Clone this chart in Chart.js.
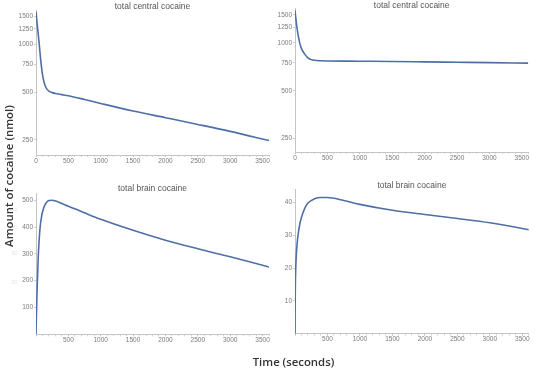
<!DOCTYPE html>
<html>
<head>
<meta charset="utf-8">
<script src="https://cdn.jsdelivr.net/npm/chart.js@4/dist/chart.umd.min.js"></script>
<style>
  html, body { margin: 0; padding: 0; background: #fff; }
  #wrap { position: relative; width: 539px; height: 368px; overflow: hidden; }
  canvas { position: absolute; }
  .lbl { position: absolute; font-family: "Open Sans", sans-serif; font-weight: 600; color: #333; white-space: nowrap; }
  .ghost { position: absolute; font-family: "Liberation Sans", sans-serif; font-size: 6px; color: #e4e4e4; }
</style>
</head>
<body>
<div id="wrap">
  <canvas id="c1" width="270" height="170" style="left:0;top:0"></canvas>
  <canvas id="c2" width="280" height="167" style="left:259px;top:0"></canvas>
  <canvas id="c3" width="270" height="170" style="left:0;top:180px"></canvas>
  <canvas id="c4" width="280" height="170" style="left:259px;top:180px"></canvas>
  <div class="ghost" style="left:11px;top:207px">50</div>
  <div class="ghost" style="left:11px;top:224px">40</div>
  <div class="ghost" style="left:11px;top:250px">30</div>
  <div class="ghost" style="left:11px;top:279px">20</div>
  <div id="ylab" class="lbl" style="font-size:11px;left:7.5px;top:176px;transform:translate(-50%,-50%) rotate(-90deg)">Amount of cocaine (nmol)</div>
  <div id="xlab" class="lbl" style="font-size:11px;left:293.5px;top:361px;transform:translate(-50%,-50%)">Time (seconds)</div>
</div>
<script>
// ---- data ----
const tCentralA = [0, 10, 20, 35, 50, 75, 100, 125, 150, 175, 200, 250, 300, 400, 500, 750, 1000, 1500, 2000, 2500, 3000, 3600];
const centralA  = [1600, 1450, 1320, 1150, 1000, 780, 645, 575, 538, 518, 507, 496, 490, 482, 474, 449, 424, 380, 345, 313, 283, 248];

const tCentralB = [0, 15, 30, 50, 75, 100, 150, 200, 250, 300, 400, 500, 1000, 1500, 2000, 2500, 3000, 3600];
const centralB  = [1600, 1400, 1250, 1110, 990, 920, 850, 805, 785, 777, 772, 770, 767, 764, 760, 756, 752, 746];

const tBrainA = [0, 5, 10, 20, 35, 60, 90, 120, 150, 200, 250, 300, 500, 750, 1000, 1500, 2000, 2500, 3000, 3600];
const brainA  = [0, 55, 100, 190, 290, 390, 445, 472, 488, 499, 500, 497, 478, 453, 429, 388, 351, 319, 289, 251];

const tBrainB = [0, 2, 5, 10, 20, 35, 50, 75, 100, 150, 200, 300, 400, 500, 750, 1000, 1500, 2000, 2500, 3000, 3600];
const brainB  = [0, 8, 14, 19, 24, 28, 30.5, 33.5, 35.5, 38.2, 39.8, 41.1, 41.5, 41.5, 40.6, 39.4, 37.6, 36.3, 35.1, 33.8, 31.7];

const xTickLabels = [0, 500, 1000, 1500, 2000, 2500, 3000, 3500];
const logTicks = [250, 500, 750, 1000, 1250, 1500];
const brainATicks = [100, 200, 300, 400, 500];
const brainBTicks = [10, 20, 30, 40];
const titleCentral = "total central cocaine";
const titleBrain = "total brain cocaine";

// ---- drawing ----
const tickFont = { family: "Liberation Sans", size: 6.5 };
const tickColor = "#7a7a7a";
const axisColor = "#c4c4c4";

const titlePlugin = {
  id: "panelTitle",
  afterDraw(chart, args, opts) {
    const ctx = chart.ctx, a = chart.chartArea;
    ctx.save();
    ctx.font = "8.5px 'Liberation Sans'";
    ctx.fillStyle = "#555";
    ctx.textAlign = "center";
    ctx.textBaseline = "middle";
    ctx.fillText(opts.text, (a.left + a.right) / 2, opts.y);
    ctx.restore();
  }
};

function makePanel(id, tArr, vArr, p) {
  const pts = tArr.map((t, i) => ({ x: t, y: vArr[i] }));
  const yIsLog = p.log;
  new Chart(document.getElementById(id), {
    type: "scatter",
    data: { datasets: [{
      data: pts, showLine: true, pointRadius: 0, borderColor: "#4e6fa6",
      borderWidth: 1.6, cubicInterpolationMode: "monotone", fill: false
    }]},
    plugins: [titlePlugin],
    options: {
      responsive: false, animation: false, devicePixelRatio: 1,
      layout: { padding: { top: p.top, right: p.right, left: 0, bottom: 0 } },
      plugins: { legend: { display: false }, tooltip: { enabled: false },
                 panelTitle: { text: p.title, y: p.titleY } },
      scales: {
        x: {
          type: "linear", min: 0, max: 3600,
          afterFit: s => { s.height = p.xh; },
          afterBuildTicks: s => {
            const arr = [];
            for (let v = 0; v <= 3600; v += 100) arr.push({ value: v });
            s.ticks = arr;
          },
          ticks: {
            autoSkip: false, maxRotation: 0, padding: 0, font: tickFont, color: tickColor,
            callback: v => (xTickLabels.includes(v) && !(p.hideZero && v === 0)) ? String(v) : ""
          },
          grid: { drawOnChartArea: false, drawTicks: true, tickLength: 2,
                  tickColor: c => (c.tick && c.tick.value % 500 === 0) ? "#bdbdbd" : "#d6d6d6" },
          border: { display: true, color: axisColor, width: 1 }
        },
        y: {
          type: yIsLog ? "logarithmic" : "linear",
          min: p.ymin, max: p.ymax,
          afterFit: s => { s.width = 36; },
          afterBuildTicks: s => { s.ticks = p.yticks.map(v => ({ value: v })); },
          ticks: { autoSkip: false, padding: 1, font: tickFont, color: tickColor,
                   callback: v => String(v) },
          grid: { drawOnChartArea: false, drawTicks: true, tickLength: 2, tickColor: "#cfcfcf" },
          border: { display: true, color: axisColor, width: 1 }
        }
      }
    }
  });
}

makePanel("c1", tCentralA, centralA, { log: true, ymin: 201, ymax: 1641, yticks: logTicks,
  top: 10, right: 1, xh: 15, title: titleCentral, titleY: 6.7, hideZero: false });
makePanel("c2", tCentralB, centralB, { log: true, ymin: 206, ymax: 1646, yticks: logTicks,
  top: 8.5, right: 10.7, xh: 15, title: titleCentral, titleY: 6, hideZero: false });
makePanel("c3", tBrainA, brainA, { log: false, ymin: 0, ymax: 527, yticks: brainATicks,
  top: 13, right: 1, xh: 15.7, title: titleBrain, titleY: 8.3, hideZero: true });
makePanel("c4", tBrainB, brainB, { log: false, ymin: 0, ymax: 44, yticks: brainBTicks,
  top: 9.3, right: 10.2, xh: 16.3, title: titleBrain, titleY: 6, hideZero: true });

// fit axis label widths to the reference
function fitWidth(el, target) {
  const w = el.getBoundingClientRect();
  const cur = el.id === "ylab" ? w.height : w.width;
  const fs = parseFloat(el.style.fontSize);
  el.style.fontSize = (fs * target / cur).toFixed(2) + "px";
}
fitWidth(document.getElementById("ylab"), 142);
fitWidth(document.getElementById("xlab"), 81.7);
</script>
</body>
</html>
